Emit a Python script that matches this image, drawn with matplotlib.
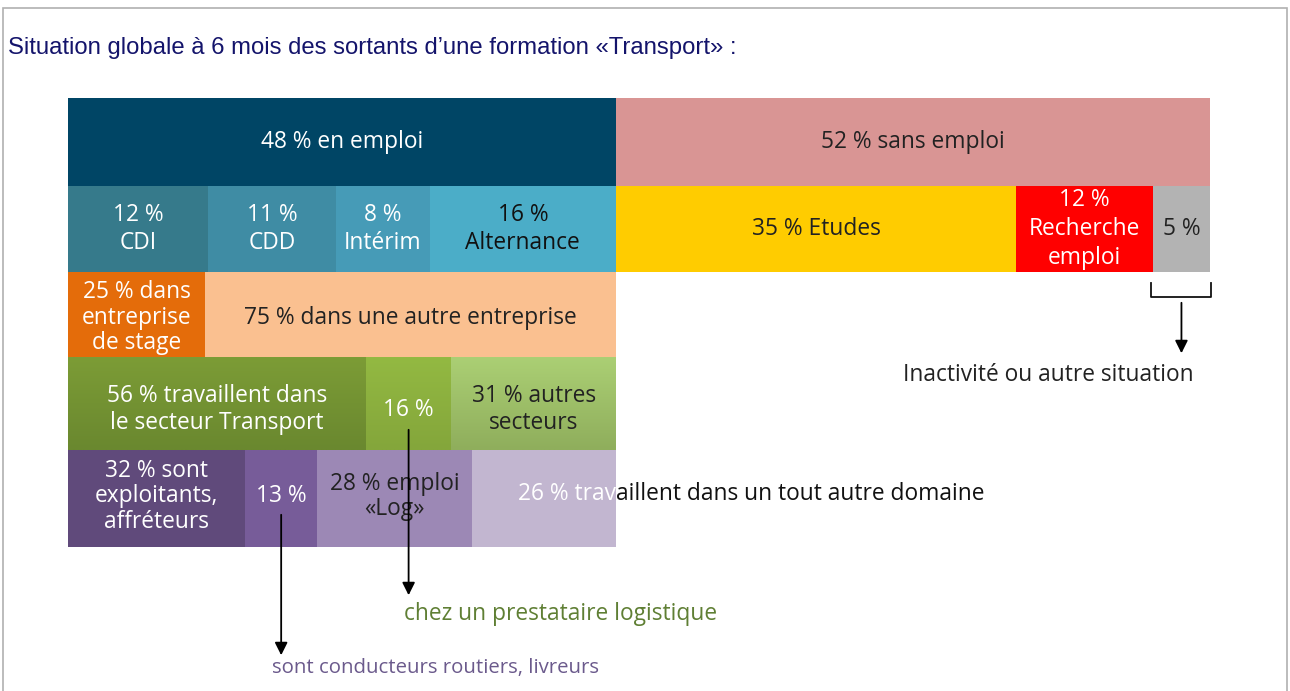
import numpy as np
import matplotlib.pyplot as plt
from matplotlib.colors import to_rgb
from matplotlib.patches import Rectangle

# chart values
total_labels = ["48 % en emploi", "52 % sans emploi"]
total_values = [48, 52]

emploi_labels = ["12 %\nCDI", "11 %\nCDD", "8 %\nIntérim", "16 %\nAlternance"]
emploi_values = [12, 11, 8, 16]

sans_labels = ["35 % Etudes", "12 %\nRecherche\nemploi", "5 %"]
sans_values = [35, 12, 5]

entreprise_labels = ["25 % dans\nentreprise\nde stage", "75 % dans une autre entreprise"]
entreprise_values = [25, 75]

secteur_labels = ["56 % travaillent dans\nle secteur Transport", "16 %", "31 % autres\nsecteurs"]
secteur_values = [56, 16, 31]

metier_labels = ["32 % sont\nexploitants,\naffréteurs", "13 %", "28 % emploi\n«Log»",
                 "26 % travaillent dans un tout autre domaine"]
metier_values = [32, 13, 28, 26]

title = "Situation globale à 6 mois des sortants d\u2019une formation «Transport» :"

FONT = "Open Sans"
FS = 16.4
fig = plt.figure(figsize=(12.9, 6.91), dpi=100)

# light frame around the whole thing
fig.patches.append(Rectangle((3 / 1290, -0.1), 1284 / 1290, 1.1 - 8 / 691,
                             transform=fig.transFigure, fill=False,
                             edgecolor="#b0b0b0", linewidth=1.2))
fig.text(8 / 1290, 1 - 48 / 691, title, family="Liberation Sans", fontsize=17.2,
         color="#14146b", va="center", ha="left")

ax = fig.add_axes([68 / 1290, 1 - 547 / 691, 1142 / 1290, 449 / 691])
ax.axis("off")

# row bands (top, bottom) - layout only
rows = [(0, 88), (88, 174), (174, 259), (259, 352), (352, 449)]


def draw_row(r, values, labels, colors, txtcolors, start=0, span=None, dy=0, ls=1.2):
    # span: width the row has to fill (the left block uses 48 = en emploi)
    top, bot = rows[r]
    yc = (top + bot) / 2
    scale = 1 if span is None else span / sum(values)
    left = start
    bars = []
    for v, lab, c, tc in zip(values, labels, colors, txtcolors):
        w = v * scale
        b = ax.barh(yc, w, left=left, height=bot - top, color=c, edgecolor="none")[0]
        bars.append(b)
        if lab:
            ax.text(left + w / 2, yc + dy, lab, ha="center", va="center", color=tc,
                    fontsize=FS, family=FONT, linespacing=ls, zorder=5)
        left += w
    return bars


def shade(bar, c_top, c_bot):
    # vertical gradient laid over a bar (the green row has it)
    g = np.linspace(0, 1, 64)[:, None, None]
    img = (1 - g) * np.array(to_rgb(c_top)) + g * np.array(to_rgb(c_bot))
    x0, y0 = bar.get_x(), bar.get_y()
    ax.imshow(img, extent=[x0, x0 + bar.get_width(), y0 + bar.get_height(), y0],
              aspect="auto", zorder=2, interpolation="bilinear")


left_w = total_values[0]

draw_row(0, total_values, total_labels, ["#004565", "#d99594"], ["white", "#222222"])
draw_row(1, emploi_values, emploi_labels,
         ["#367a8b", "#3f8ca4", "#469bb7", "#4badc8"],
         ["white", "white", "white", "#111111"], span=left_w, ls=1.22)
draw_row(1, sans_values, sans_labels, ["#ffcc00", "#ff0000", "#b3b3b3"],
         ["#222222", "white", "#222222"], start=left_w, ls=1.28)
draw_row(2, entreprise_values, entreprise_labels, ["#e46c0a", "#fac090"],
         ["white", "#222222"], span=left_w, dy=3, ls=1.06)
sect = draw_row(3, secteur_values, secteur_labels, ["#76923c", "#8db440", "#a6c76c"],
                ["white", "white", "#222222"], span=left_w, dy=6, ls=1.15)
for b, ct, cb in zip(sect, ["#7c9c36", "#93b942", "#abcf74"], ["#6a882f", "#84a63b", "#8fae5c"]):
    shade(b, ct, cb)
met = draw_row(4, metier_values, metier_labels[:3] + [""],
               ["#604a7b", "#775c99", "#9c88b5", "#c2b6d0"],
               ["white", "white", "#222222", "white"], span=left_w, dy=-2, ls=1.06)

ax.set_xlim(0, 100)
ax.set_ylim(449, 0)  # y in pixels from the top of the block

# 26 % label runs out of its bar: white inside, black outside
last = met[3]
edge = last.get_x() + last.get_width()
y26 = 396
part1, part2 = metier_labels[3][:9], metier_labels[3][9:]
ax.text(edge, y26, part1, ha="right", va="center", color="white",
        fontsize=FS, family=FONT, zorder=5)
ax.text(edge, y26, part2, ha="left", va="center", color="#111111",
        fontsize=FS, family=FONT, clip_on=False, zorder=5)

arrow = dict(arrowstyle="-|>", color="black", lw=1.3, mutation_scale=19)

# bracket under "5 %" and arrow to its note
x5 = left_w + sum(sans_values[:2])
ax.plot([x5 - 0.2, x5 - 0.2, 100.1, 100.1], [185, 199, 199, 185], color="#111111",
        lw=1.3, clip_on=False)
xm = (x5 + 100) / 2
ax.annotate("", xy=(xm, 258), xytext=(xm, 202), arrowprops=arrow, annotation_clip=False)
ax.text(xm - 11.7, 277, "Inactivité ou autre situation", ha="center", va="center",
        color="#222222", fontsize=FS, family=FONT, clip_on=False)

# arrow from 16 % (logistics)
b16 = sect[1]
x16 = b16.get_x() + b16.get_width() / 2
ax.annotate("", xy=(x16, 500), xytext=(x16, 329), arrowprops=arrow, annotation_clip=False,
            zorder=6)
ax.text(x16 - 0.4, 516, "chez un prestataire logistique", ha="left", va="center",
        color="#5f7f34", fontsize=FS, family=FONT, clip_on=False)

# arrow from 13 % (drivers)
b13 = met[1]
x13 = b13.get_x() + b13.get_width() / 2
ax.annotate("", xy=(x13, 560), xytext=(x13, 414), arrowprops=arrow, annotation_clip=False,
            zorder=6)
ax.text(x13 - 0.8, 570, "sont conducteurs routiers, livreurs", ha="left", va="center",
        color="#6b5a8c", fontsize=14.7, family=FONT, clip_on=False)

fig.savefig("out.png", dpi=100)
